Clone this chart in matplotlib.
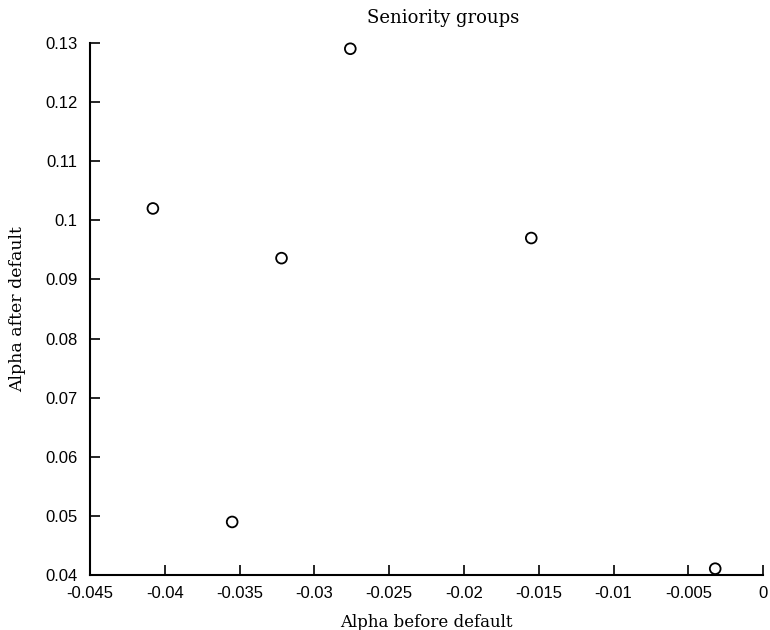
import matplotlib
matplotlib.use("Agg")
import matplotlib.pyplot as plt

# seniority groups: alpha before vs after default
alpha_before = [-0.0408, -0.0355, -0.0322, -0.0276, -0.0155, -0.0032]
alpha_after = [0.1020, 0.0490, 0.0936, 0.1290, 0.0970, 0.0411]

xticks = [-0.045, -0.04, -0.035, -0.03, -0.025, -0.02, -0.015, -0.01, -0.005, 0]
xlabels = ["-0.045", "-0.04", "-0.035", "-0.03", "-0.025", "-0.02", "-0.015", "-0.01", "-0.005", "0"]
yticks = [0.04, 0.05, 0.06, 0.07, 0.08, 0.09, 0.1, 0.11, 0.12, 0.13]
ylabels = ["0.04", "0.05", "0.06", "0.07", "0.08", "0.09", "0.1", "0.11", "0.12", "0.13"]

fig = plt.figure(figsize=(7.7, 6.3), dpi=100)
ax = fig.add_axes([0.117, 0.087, 0.874, 0.845])

ax.scatter(alpha_before, alpha_after, s=60, facecolors="none",
           edgecolors="black", linewidths=1.3, clip_on=False, zorder=3)

ax.set_xlim(-0.045, 0)
ax.set_ylim(0.04, 0.13)
ax.set_xticks(xticks)
ax.set_xticklabels(xlabels, family="Liberation Sans", fontsize=12)
ax.set_yticks(yticks)
ax.set_yticklabels(ylabels, family="Liberation Sans", fontsize=12)
ax.tick_params(axis="x", direction="in", length=7, width=1.2, pad=8)
ax.tick_params(axis="y", direction="in", length=7, width=1.2, pad=9)

ax.spines["top"].set_visible(False)
ax.spines["right"].set_visible(False)
ax.spines["left"].set_linewidth(1.5)
ax.spines["bottom"].set_linewidth(1.5)

ax.set_title("Seniority groups", family="DejaVu Serif", fontsize=13, pad=14, x=0.525)
ax.set_xlabel("Alpha before default", family="DejaVu Serif", fontsize=12, labelpad=9)
ax.set_ylabel("Alpha after default", family="DejaVu Serif", fontsize=12.5, labelpad=14)

fig.savefig("out.png", dpi=100)
